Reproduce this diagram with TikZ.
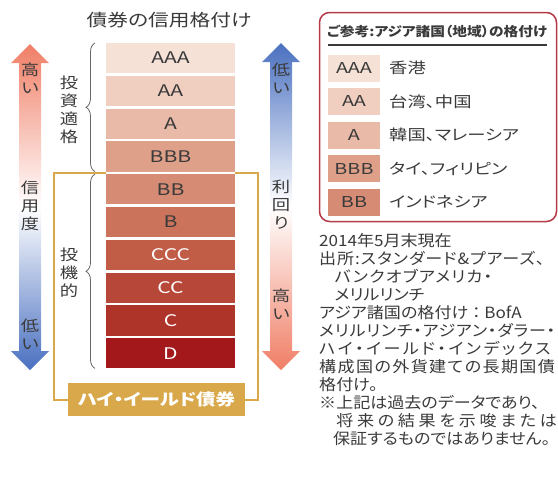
\documentclass[tikz,border=0pt]{standalone}
\usepackage{fontspec}
\setmainfont{Noto Sans CJK JP}[FakeStretch=1.22,RawFeature=+palt]
\newfontfamily\condfont{Noto Sans CJK JP}[FakeStretch=1.13,RawFeature=+palt]
\newfontfamily\notefont{Noto Sans CJK JP}[FakeStretch=1.1,RawFeature=+palt]
\newfontfamily\ratefont{Noto Sans CJK JP}[FakeStretch=1.32]
\usetikzlibrary{positioning,calc,decorations.pathreplacing}
\definecolor{txtgray}{HTML}{3A3A3A}
\definecolor{gold}{HTML}{D9A84A}
\definecolor{legred}{HTML}{B43A48}
\definecolor{upred}{HTML}{F07E66}
\definecolor{dnblue}{HTML}{4A70C0}
\definecolor{cAAA}{HTML}{F6E1D7}
\definecolor{cAA}{HTML}{F0CFC1}
\definecolor{cA}{HTML}{E9BAA8}
\definecolor{cBBB}{HTML}{DFA08A}
\definecolor{cBB}{HTML}{D58B74}
\definecolor{cB}{HTML}{CB735B}
\definecolor{cCCC}{HTML}{C15C47}
\definecolor{cCC}{HTML}{B74738}
\definecolor{cC}{HTML}{AE342A}
\definecolor{cD}{HTML}{A2181B}
\newcommand{\fs}[2]{\fontsize{#1}{#2}\selectfont}
\newcommand{\spread}[2]{{\addfontfeature{LetterSpace=#1}#2}}
\begin{document}
\begin{tikzpicture}[x=1pt, y=-1pt, text=txtgray, font=\fs{15}{18},
  rate/.style={minimum width=129pt, minimum height=30.2pt, inner sep=0pt, outer sep=0pt, font=\ratefont\fs{16}{16}},
  dark/.style={rate, text=white},
  vtxt/.style={align=center, inner sep=0pt, font=\fs{15}{18}},
  brc/.style={decorate, decoration={brace, amplitude=9pt}, draw=black!60, line width=0.8pt},
  sw/.style={minimum width=52pt, minimum height=27pt, inner sep=0pt, outer sep=0pt, font=\ratefont\fs{15}{15}},
  goldline/.style={draw=gold, line width=2pt}]
  \useasboundingbox (0,0) rectangle (558,493);
  % title and rating stack
  \node (title) at (169,20) {\fs{17}{17}債券の信用格付け};
  \node[rate, fill=cAAA] (AAA) at (170.5,58.1) {AAA};
  \node[rate, fill=cAA, below=2.6pt of AAA] (AA) {AA};
  \node[rate, fill=cA, below=2.6pt of AA] (A) {A};
  \node[rate, fill=cBBB, below=2.6pt of A] (BBB) {BBB};
  \node[rate, fill=cBB, below=2.6pt of BBB] (BB) {BB};
  \node[rate, fill=cB, below=2.6pt of BB] (B) {B};
  \node[dark, fill=cCCC, below=2.6pt of B] (CCC) {CCC};
  \node[dark, fill=cCC, below=2.6pt of CCC] (CC) {CC};
  \node[dark, fill=cC, below=2.6pt of CC] (C) {C};
  \node[dark, fill=cD, below=2.6pt of C] (D) {D};
  % braces
  \draw[brc] ($(BBB.south west)+(-11,0)$) -- ($(AAA.north west)+(-11,0)$);
  \draw[brc] ($(D.south west)+(-11,0)$) -- ($(BB.north west)+(-11,0)$);
  \node[vtxt] (inv) at (69,110) {投\\資\\適\\格};
  \node[vtxt] (spec) at (69,273) {投\\機\\的};
  % high yield frame
  \node[fill=gold, text=white, minimum width=177pt, minimum height=33pt, inner sep=0pt, font=\bfseries\fs{16}{16}] (hy) at (156.5,399.5) {ハイ・イールド債券};
  \coordinate (gl) at ($(BB.north west)+(0,-1.3)$);
  \coordinate (gr) at ($(BB.north east)+(0,-1.3)$);
  \draw[goldline] (hy.west) -| ($(gl)+(-52,0)$) -- (gl);
  \draw[goldline] (hy.east) -| ($(gr)+(23,0)$) -- (gr);
  % credit arrow
  \shade[top color=upred, bottom color=dnblue, middle color=white]
    (30,44) -- (49,63) -- (41,63) -- (41,351) -- (49,351) -- (30,370) -- (11,351) -- (19,351) -- (19,63) -- (11,63) -- cycle;
  \node[vtxt] (hiL) at (30,78) {高\\い};
  \node[vtxt] (crL) at (30,206) {信\\用\\度};
  \node[vtxt] (loL) at (30,334) {低\\い};
  % yield arrow
  \shade[top color=dnblue, bottom color=upred, middle color=white]
    (281,43) -- (300,62) -- (292,62) -- (292,351) -- (300,351) -- (281,370) -- (262,351) -- (270,351) -- (270,62) -- (262,62) -- cycle;
  \node[vtxt] (loR) at (281,78) {低\\い};
  \node[vtxt] (yiR) at (281,205) {利\\回\\り};
  \node[vtxt] (hiR) at (281,304) {高\\い};
  % legend
  \draw[legred, line width=1.5pt, rounded corners=10pt] (319.5,12.5) rectangle (556.5,221.5);
  \node[anchor=west, inner sep=0pt, font=\condfont\bfseries\fs{13}{13}] (legt) at (327,31) {ご参考:アジア諸国（地域）の格付け};
  \draw[txtgray, line width=1.8pt] (328,45) -- (547,45);
  \node[sw, fill=cAAA] (sAAA) at (354,68) {AAA};
  \node[sw, fill=cAA, below=6.5pt of sAAA] (sAA) {AA};
  \node[sw, fill=cA, below=6.5pt of sAA] (sA) {A};
  \node[sw, fill=cBBB, below=6.5pt of sA] (sBBB) {BBB};
  \node[sw, fill=cBB, below=6.5pt of sBBB] (sBB) {BB};
  \node[right=9pt of sAAA, inner sep=0pt] (hk) {香港};
  \node[right=9pt of sAA, inner sep=0pt] (tw) {台湾、中国};
  \node[right=9pt of sA, inner sep=0pt] (kr) {韓国、マレーシア};
  \node[right=9pt of sBBB, inner sep=0pt] (th) {タイ、フィリピン};
  \node[right=9pt of sBB, inner sep=0pt] (id) {インドネシア};
  % notes
  \node[anchor=north west, align=left, inner sep=0pt, font=\notefont\fs{15.5}{18}] (notes) at (319,233) {%
    2014年5月末現在\\
    \spread{6}{出所:スタンダード\&プアーズ、}\\
    \hspace*{1em}\spread{8}{バンクオブアメリカ・}\\
    \hspace*{1em}メリルリンチ\\
    アジア諸国の格付け\ ：\ BofA\\
    \spread{5}{メリルリンチ・アジアン・ダラー・}\\
    \spread{16}{ハイ・イールド・インデックス}\\
    \spread{9}{構成国の外貨建ての長期国債}\\
    格付け。\\
    ※上記は過去のデータであり、\\
    \hspace*{1.1em}\spread{24}{将来の結果を示唆または}\\
    \hspace*{0.9em}保証するものではありません。};
\end{tikzpicture}
\end{document}
